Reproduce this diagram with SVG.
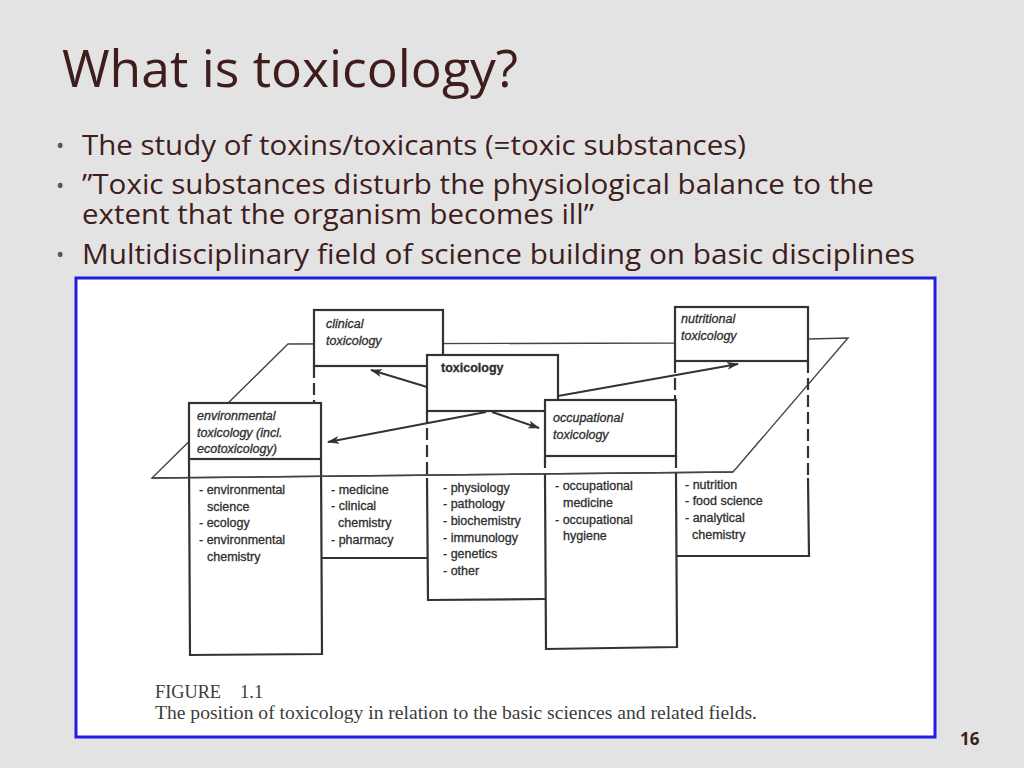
<svg xmlns="http://www.w3.org/2000/svg" width="1024" height="768" viewBox="0 0 1024 768">
<style>
.title{font-family:"Open Sans","Noto Sans",sans-serif;font-size:52px;fill:#3f1d1d}
.bul{font-family:"Open Sans","Noto Sans",sans-serif;font-size:26.5px;fill:#3f1d1d}
.dot{font-family:"Open Sans","Noto Sans",sans-serif;font-size:22px;fill:#555}
.hdr{fill:#fff;stroke:#333;stroke-width:2.2}
.col{fill:none;stroke:#333;stroke-width:2.2}
.dash{fill:none;stroke:#333;stroke-width:2.2;stroke-dasharray:12 5}
.plane{fill:none;stroke:#444;stroke-width:1.4}
.ht{font-family:"Liberation Sans",Arial,sans-serif;font-size:12.5px;font-style:italic;fill:#2e2e2e;stroke:#2e2e2e;stroke-width:0.3}
.lt{font-family:"Liberation Sans",Arial,sans-serif;font-size:12.5px;fill:#2e2e2e;stroke:#2e2e2e;stroke-width:0.3}
.cap{font-family:"Liberation Serif","Times New Roman",serif;font-size:18.5px;fill:#3c3c3c}
.arr{stroke:#333;stroke-width:2;fill:none;marker-end:url(#ah)}
</style>
<defs>
<marker id="ah" viewBox="0 0 12 8" refX="11" refY="4" markerWidth="12" markerHeight="8" markerUnits="userSpaceOnUse" orient="auto">
<path d="M0,0 L12,4 L0,8 L3,4 Z" fill="#333"/>
</marker>
</defs>
<rect x="0" y="0" width="1024" height="768" fill="#e3e3e3"/>
<text class="title" x="62" y="87" textLength="456" lengthAdjust="spacingAndGlyphs">What is toxicology?</text>
<g id="bullets">
<text class="dot" x="56" y="153">•</text>
<text class="bul" x="82" y="155" textLength="664" lengthAdjust="spacingAndGlyphs">The study of toxins/toxicants (=toxic substances)</text>
<text class="dot" x="56" y="193">•</text>
<text class="bul" x="82" y="194" textLength="792" lengthAdjust="spacingAndGlyphs">”Toxic substances disturb the physiological balance to the</text>
<text class="bul" x="82" y="224" textLength="512" lengthAdjust="spacingAndGlyphs">extent that the organism becomes ill”</text>
<text class="dot" x="56" y="262">•</text>
<text class="bul" x="82" y="264" textLength="833" lengthAdjust="spacingAndGlyphs">Multidisciplinary field of science building on basic disciplines</text>
</g>
<rect id="frame" x="76" y="278" width="859" height="459" fill="#fff" stroke="#1e1ee0" stroke-width="3"/>
<g id="plane">
<polygon class="plane" points="288,344 674,343 808,339 848,338 733,472 152,478"/>
</g>
<g id="node-clinical">
<line class="dash" x1="314" y1="366" x2="314" y2="403"/>
<line class="col" x1="321" y1="558" x2="427" y2="558"/>
<rect class="hdr" x="314" y="310" width="129" height="56"/>
<text class="ht" x="326" y="328">clinical</text>
<text class="ht" x="326" y="345">toxicology</text>
<text class="lt" x="331" y="494">- medicine</text>
<text class="lt" x="331" y="510">- clinical</text>
<text class="lt" x="338" y="527">chemistry</text>
<text class="lt" x="331" y="544">- pharmacy</text>
</g>
<g id="node-nutritional">
<line class="dash" x1="675" y1="361" x2="675" y2="400"/>
<line class="dash" x1="808" y1="361" x2="808" y2="478"/>
<polyline class="col" points="808,478 809,556 676,556"/>
<rect class="hdr" x="675" y="307" width="133" height="54"/>
<text class="ht" x="681" y="323">nutritional</text>
<text class="ht" x="681" y="340">toxicology</text>
<text class="lt" x="685" y="489">- nutrition</text>
<text class="lt" x="685" y="505">- food science</text>
<text class="lt" x="685" y="522">- analytical</text>
<text class="lt" x="692" y="539">chemistry</text>
</g>
<g id="node-toxicology">
<line class="dash" x1="427" y1="411" x2="427" y2="478"/>
<polyline class="col" points="427,478 428,600 545,599"/>
<rect class="hdr" x="427" y="355" width="131" height="56"/>
<text class="lt" x="441" y="372" font-weight="bold">toxicology</text>
<text class="lt" x="443" y="492">- physiology</text>
<text class="lt" x="443" y="508">- pathology</text>
<text class="lt" x="443" y="525">- biochemistry</text>
<text class="lt" x="443" y="542">- immunology</text>
<text class="lt" x="443" y="558">- genetics</text>
<text class="lt" x="443" y="575">- other</text>
</g>
<g id="node-occupational">
<line class="dash" x1="545" y1="456" x2="545" y2="478"/>
<line class="dash" x1="676" y1="456" x2="676" y2="478"/>
<polyline class="col" points="545,478 546,649 677,647 676,478"/>
<rect class="hdr" x="545" y="400" width="131" height="56"/>
<text class="ht" x="553" y="422">occupational</text>
<text class="ht" x="553" y="439">toxicology</text>
<text class="lt" x="555" y="490">- occupational</text>
<text class="lt" x="563" y="507">medicine</text>
<text class="lt" x="555" y="524">- occupational</text>
<text class="lt" x="563" y="540">hygiene</text>
</g>
<g id="node-environmental">
<polyline class="col" points="189,459 190,655 322,654 321,459"/>
<rect class="hdr" x="189" y="403" width="132" height="56"/>
<text class="ht" x="197" y="420">environmental</text>
<text class="ht" x="197" y="437">toxicology (incl.</text>
<text class="ht" x="197" y="453">ecotoxicology)</text>
<text class="lt" x="199" y="494">- environmental</text>
<text class="lt" x="207" y="511">science</text>
<text class="lt" x="199" y="527">- ecology</text>
<text class="lt" x="199" y="544">- environmental</text>
<text class="lt" x="207" y="561">chemistry</text>
</g>
<g id="plane-front">
<line class="plane" x1="733" y1="472" x2="152" y2="478"/>
</g>
<g id="connectors">
<line class="arr" x1="427" y1="387" x2="371" y2="370"/>
<line class="arr" x1="486" y1="412" x2="328" y2="442"/>
<line class="arr" x1="492" y1="412" x2="539" y2="428"/>
<line class="arr" x1="558" y1="396" x2="738" y2="364"/>
</g>
<g id="caption">
<text class="cap" x="155" y="698" textLength="66" lengthAdjust="spacingAndGlyphs">FIGURE</text>
<text class="cap" x="240" y="698">1.1</text>
<text class="cap" x="155" y="719" textLength="602" lengthAdjust="spacingAndGlyphs">The position of toxicology in relation to the basic sciences and related fields.</text>
</g>
<text x="960" y="745" font-family="Open Sans, Noto Sans, sans-serif" font-size="17" font-weight="bold" fill="#3f1d1d">16</text>
</svg>
